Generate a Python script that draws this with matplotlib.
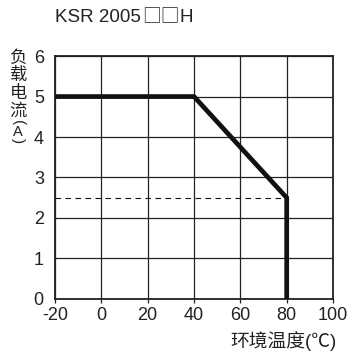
import matplotlib
matplotlib.use("Agg")
import matplotlib.pyplot as plt

plt.rcParams['font.family'] = ['Liberation Sans', 'Noto Sans CJK SC', 'DejaVu Sans']
plt.rcParams['axes.unicode_minus'] = False

# derating curve
temp = [-20, 40, 80, 80]
current = [5, 5, 2.5, 0]
# dashed reference level
ref_temp = [-20, 80]
ref_current = [2.5, 2.5]

xticks = [-20, 0, 20, 40, 60, 80, 100]
yticks = [0, 1, 2, 3, 4, 5, 6]

W, H = 348, 355
fig = plt.figure(figsize=(W / 100, H / 100), dpi=100)
ax = fig.add_axes([0.158, 0.158, 0.799, 0.684])

ax.plot(temp, current, color='#111111', lw=3.4, solid_joinstyle='miter', zorder=3)
ax.plot(ref_temp, ref_current, color='#111111', lw=0.8, dashes=(5, 4), zorder=3)

ax.set_xlim(-20, 100)
ax.set_ylim(0, 6)
ax.set_xticks(xticks)
ax.set_yticks(yticks)
ax.grid(True, color='#222222', lw=0.9)
for s in ax.spines.values():
    s.set_linewidth(1.3)
    s.set_color('#222222')
ax.tick_params(axis='x', direction='out', length=3, width=0.9, labelsize=13, pad=3, colors='#222222')
ax.tick_params(axis='y', length=0, labelsize=13, pad=8, colors='#222222')

# title: latin part + full-width boxes from the CJK font
t1 = fig.text(0.158, 0.952, "KSR 2005", fontsize=13.5, ha='left', va='center', color='#222222')
fig.canvas.draw()
r = fig.canvas.get_renderer()
x = t1.get_window_extent(r).x1 / W + 0.003
t2 = fig.text(x, 0.952, "\u25a1\u25a1", fontsize=13.5, ha='left', va='center', color='#222222',
              family=['Noto Sans CJK SC'])
x = t2.get_window_extent(r).x1 / W
fig.text(x, 0.952, "H", fontsize=13.5, ha='left', va='center', color='#222222')

# vertical y label
for ch, yp in zip("负载电流", [58, 75, 93, 111]):
    fig.text(0.052, 1 - yp / H, ch, fontsize=12.5, ha='center', va='center', color='#222222',
             family=['Noto Sans CJK SC'])
fig.text(0.052, 1 - 123 / H, "(", fontsize=11, rotation=-90, ha='center', va='center', color='#222222')
fig.text(0.052, 1 - 132 / H, "A", fontsize=10.5, ha='center', va='center', color='#222222')
fig.text(0.052, 1 - 141 / H, ")", fontsize=11, rotation=-90, ha='center', va='center', color='#222222')

fig.text(0.968, 0.04, "环境温度(℃)", fontsize=13.5, ha='right', va='center', color='#222222')

fig.savefig("out.png", dpi=100)
